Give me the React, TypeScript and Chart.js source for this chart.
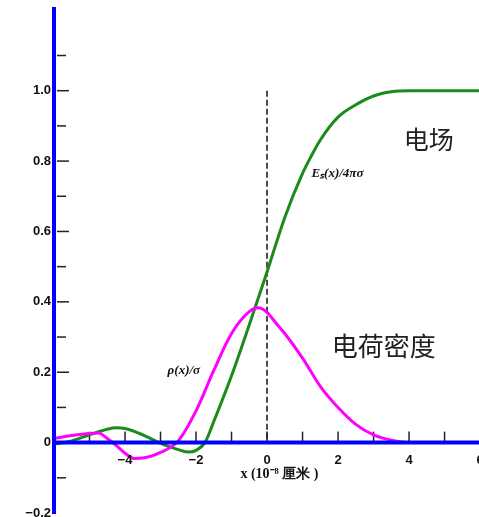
import React, { useEffect, useRef } from "react";
import { Chart, registerables } from "chart.js";

Chart.register(...registerables);

const greenX = [-6, -5.5, -5, -4.5, -4.25, -4, -3.5, -3, -2.5, -2.2, -2, -1.75, -1.5, -1, -0.5, 0, 0.5, 1, 1.25, 1.5, 2, 2.5, 3, 3.5, 4, 5, 6];
const greenY = [-0.005, 0.005, 0.022, 0.038, 0.042, 0.04, 0.022, -0.002, -0.02, -0.027, -0.022, 0.0, 0.06, 0.19, 0.335, 0.485, 0.64, 0.765, 0.815, 0.86, 0.925, 0.96, 0.985, 0.997, 1.0, 1.0, 1.0];

const rhoX = [-6, -5.5, -5, -4.75, -4.5, -4.25, -4, -3.75, -3.5, -3, -2.5, -2, -1.5, -1, -0.5, -0.25, 0, 0.25, 0.5, 1, 1.5, 2, 2.5, 3, 3.5, 4, 5, 6];
const rhoY = [0.012, 0.02, 0.026, 0.027, 0.012, -0.008, -0.03, -0.045, -0.044, -0.028, 0.005, 0.09, 0.205, 0.31, 0.372, 0.383, 0.37, 0.34, 0.31, 0.24, 0.16, 0.1, 0.052, 0.022, 0.007, 0.0, 0.0, 0.0];

const xTickLabels = ["−4", "−2", "0", "2", "4", "6"];
const xTickValues = [-4, -2, 0, 2, 4, 6];
const yTickLabels = ["1.0", "0.8", "0.6", "0.4", "0.2", "0", "−0.2"];
const yTickValues = [1.0, 0.8, 0.6, 0.4, 0.2, 0, -0.2];

const xTitle = "x (10⁻⁸ 厘米 )";
const greenLabel = "Eₛ(x)/4πσ";
const rhoLabel = "ρ(x)/σ";
const fieldText = "电场";
const chargeText = "电荷密度";

const axesPlugin = {
  id: "customAxes",
  beforeDatasetsDraw(chart: any) {
    const { ctx, scales } = chart;
    const xs = scales.x;
    const ys = scales.y;
    ctx.save();
    ctx.strokeStyle = "#111";
    ctx.lineWidth = 1.5;
    ctx.setLineDash([6, 3]);
    ctx.beginPath();
    ctx.moveTo(xs.getPixelForValue(0), ys.getPixelForValue(1.0));
    ctx.lineTo(xs.getPixelForValue(0), ys.getPixelForValue(0));
    ctx.stroke();
    ctx.setLineDash([]);

    const x0 = xs.getPixelForValue(-6);
    ctx.strokeStyle = "#222";
    ctx.lineWidth = 1.5;
    for (let i = -1; i <= 11; i++) {
      const v = i / 10;
      const py = ys.getPixelForValue(v);
      const len = i % 2 === 0 ? 15 : 12;
      ctx.beginPath();
      ctx.moveTo(x0 + 3, py);
      ctx.lineTo(x0 + len, py);
      ctx.stroke();
    }
    const y0 = ys.getPixelForValue(0);
    for (let v = -5; v <= 6; v++) {
      const px = xs.getPixelForValue(v);
      ctx.beginPath();
      ctx.moveTo(px, y0);
      ctx.lineTo(px, y0 - 11);
      ctx.stroke();
    }
    ctx.restore();
  },
  afterDatasetsDraw(chart: any) {
    const { ctx, scales } = chart;
    const xs = scales.x;
    const ys = scales.y;
    const x0 = xs.getPixelForValue(-6);
    const y0 = ys.getPixelForValue(0);
    ctx.save();
    ctx.strokeStyle = "#0000ff";
    ctx.lineWidth = 4;
    ctx.beginPath();
    ctx.moveTo(x0, 7);
    ctx.lineTo(x0, 514);
    ctx.stroke();
    ctx.beginPath();
    ctx.moveTo(x0, y0);
    ctx.lineTo(chart.width, y0);
    ctx.stroke();

    ctx.fillStyle = "#111";
    ctx.font = "bold 13px 'Liberation Sans', Arial, sans-serif";
    ctx.textAlign = "right";
    ctx.textBaseline = "middle";
    yTickValues.forEach((v, i) => {
      ctx.fillText(yTickLabels[i], x0 - 3, ys.getPixelForValue(v));
    });
    ctx.textAlign = "center";
    xTickValues.forEach((v, i) => {
      ctx.fillText(xTickLabels[i], xs.getPixelForValue(v), y0 + 18);
    });
    ctx.font = "bold 14px 'Liberation Serif', serif";
    ctx.fillText(xTitle, xs.getPixelForValue(0.35), y0 + 32);

    ctx.font = "italic bold 13px 'Liberation Serif', serif";
    ctx.textAlign = "left";
    ctx.fillText(greenLabel, xs.getPixelForValue(1.25), ys.getPixelForValue(0.765));
    ctx.fillText(rhoLabel, xs.getPixelForValue(-2.8), ys.getPixelForValue(0.205));

    ctx.fillStyle = "#222";
    ctx.font = "25px 'Noto Sans CJK SC', sans-serif";
    ctx.fillText(fieldText, xs.getPixelForValue(3.85), ys.getPixelForValue(0.86));
    ctx.font = "26px 'Noto Sans CJK SC', sans-serif";
    ctx.fillText(chargeText, xs.getPixelForValue(1.82), ys.getPixelForValue(0.275));
    ctx.restore();
  },
};

export default function App() {
  const ref = useRef<HTMLCanvasElement | null>(null);
  useEffect(() => {
    if (!ref.current) return;
    const chart = new Chart(ref.current, {
      type: "line",
      data: {
        datasets: [
          {
            label: "rho",
            data: rhoX.map((x, i) => ({ x, y: rhoY[i] })),
            borderColor: "#ff00ff",
            borderWidth: 3,
            pointRadius: 0,
            cubicInterpolationMode: "monotone",
            fill: false,
          },
          {
            label: "E",
            data: greenX.map((x, i) => ({ x, y: greenY[i] })),
            borderColor: "#1a8c1a",
            borderWidth: 3,
            pointRadius: 0,
            cubicInterpolationMode: "monotone",
            fill: false,
          },
        ],
      },
      options: {
        responsive: false,
        animation: false,
        devicePixelRatio: 1,
        layout: { padding: { left: 54, right: 0, top: 8, bottom: 4 } },
        plugins: { legend: { display: false }, tooltip: { enabled: false } },
        scales: {
          x: { type: "linear", min: -6, max: 5.97, display: false },
          y: { type: "linear", min: -0.2, max: 1.235, display: false },
        },
      },
      plugins: [axesPlugin],
    });
    return () => chart.destroy();
  }, []);
  return (
    <div style={{ position: "fixed", left: 0, top: 0, width: 479, height: 517, background: "#fff" }}>
      <canvas ref={ref} width={479} height={517} />
    </div>
  );
}
